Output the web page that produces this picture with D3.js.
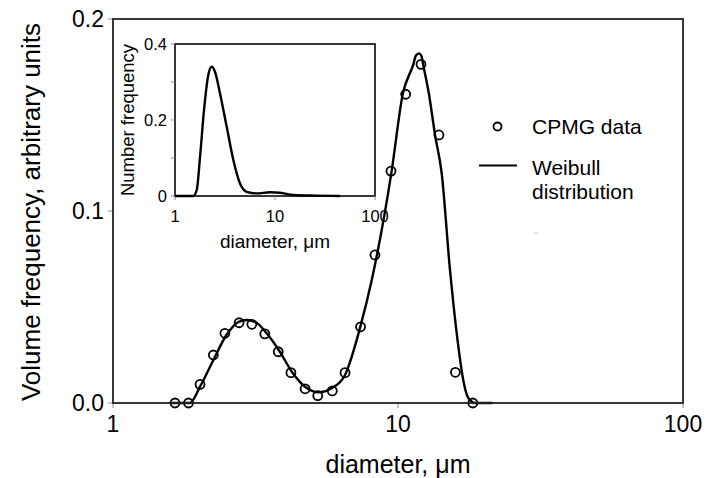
<!DOCTYPE html>
<html lang="en">
<head>
  <meta charset="UTF-8">
  <title>Volume frequency vs diameter</title>
  <style>
    body { margin: 0; background: #fff; }
    svg text { font-family: "Liberation Sans", Arial, sans-serif; fill: #000; }
  </style>
</head>
<body>
  <svg id="chart" width="707" height="478"></svg>

  <script src="https://cdn.jsdelivr.net/npm/d3@7"></script>
  <script>
    // CPMG data points (diameter in um, volume frequency)
    const cpmgDiam = [1.65, 1.84, 2.02, 2.25, 2.47, 2.77, 3.07, 3.41, 3.80, 4.21, 4.72,
                      5.23, 5.88, 6.52, 7.39, 8.30, 9.45, 10.64, 12.04, 13.92, 15.9, 18.3];
    const cpmgFreq = [0, 0, 0.0097, 0.025, 0.0363, 0.0418, 0.041, 0.036, 0.0267, 0.0158, 0.0074,
                      0.0038, 0.0063, 0.0158, 0.0397, 0.0771, 0.1208, 0.1608, 0.1764, 0.1396, 0.016, 0];

    // Weibull fit curve
    const fitDiam = [1.6, 1.72, 1.86, 2.02, 2.25, 2.50, 2.76, 2.95, 3.19, 3.46, 3.85, 4.24, 4.72,
                     5.25, 5.85, 6.52, 7.35, 8.09, 9.50, 10.39, 11.32, 11.56, 11.85, 12.09, 12.24,
                     12.84, 13.49, 14.23, 15.22, 16.29, 16.94, 17.65, 18.63, 21.5];
    const fitFreq = [0, 0, 0, 0.0085, 0.0224, 0.0354, 0.0423, 0.0432, 0.0418, 0.0363, 0.0267, 0.0163, 0.0085,
                     0.0056, 0.0077, 0.0146, 0.0389, 0.0641, 0.1208, 0.1608, 0.1764, 0.181, 0.1821, 0.1807, 0.1766,
                     0.1609, 0.1396, 0.1198, 0.0693, 0.0292, 0.012, 0.0026, 0, 0];

    // inset: number frequency
    const insetDiam = [1.0, 1.52, 1.65, 1.78, 1.95, 2.15, 2.33, 2.51, 2.82, 3.29, 3.83, 4.47, 5.21,
                       6.56, 8.91, 11.2, 15.2, 26, 44.7];
    const insetFreq = [0, 0, 0.0158, 0.103, 0.226, 0.318, 0.340, 0.327, 0.270, 0.182, 0.095, 0.033, 0.011,
                       0.007, 0.0097, 0.0087, 0.0026, 0.001, 0];

    const xTicks = [1, 10, 100];
    const yTicks = [0, 0.1, 0.2];
    const yTickLabels = ["0.0", "0.1", "0.2"];
    const insetYTicks = [0, 0.2, 0.4];
    const insetYTickLabels = ["0", "0.2", "0.4"];
    const insetYMinor = [0.1, 0.3];

    const svg = d3.select("#chart");

    // ---- main plot ----
    const m = { left: 113, right: 683, top: 19, bottom: 403 };
    const x = d3.scaleLog().domain([1, 100]).range([m.left, m.right]);
    const y = d3.scaleLinear().domain([0, 0.2]).range([m.bottom, m.top]);

    // ticks
    svg.selectAll(".ytick").data(yTicks).enter().append("line")
      .attr("x1", m.left - 5).attr("x2", m.left)
      .attr("y1", d => y(d)).attr("y2", d => y(d))
      .attr("stroke", "#888").attr("stroke-width", 1);
    svg.selectAll(".xtick").data(xTicks).enter().append("line")
      .attr("x1", d => x(d)).attr("x2", d => x(d))
      .attr("y1", m.bottom).attr("y2", m.bottom + 5)
      .attr("stroke", "#888").attr("stroke-width", 1);

    svg.selectAll(".ylab").data(yTicks).enter().append("text")
      .attr("x", 104).attr("y", d => y(d)).attr("dy", "0.36em")
      .attr("text-anchor", "end").attr("font-size", 23)
      .text((d, i) => yTickLabels[i]);
    svg.selectAll(".xlab").data(xTicks).enter().append("text")
      .attr("x", d => x(d)).attr("y", 432)
      .attr("text-anchor", "middle").attr("font-size", 23)
      .text(d => d);

    svg.append("text")
      .attr("x", (m.left + m.right) / 2).attr("y", 473)
      .attr("text-anchor", "middle").attr("font-size", 25)
      .text("diameter, \u03bcm");
    svg.append("text")
      .attr("transform", "translate(40," + ((m.top + m.bottom) / 2 + 1) + ") rotate(-90)")
      .attr("text-anchor", "middle").attr("font-size", 26)
      .text("Volume frequency, arbitrary units");

    // curve
    const fit = fitDiam.map((d, i) => [d, fitFreq[i]]);
    svg.append("path")
      .datum(fit)
      .attr("fill", "none").attr("stroke", "#000").attr("stroke-width", 2.4)
      .attr("d", d3.line().x(d => x(d[0])).y(d => y(d[1])).curve(d3.curveMonotoneX));

    // data circles
    svg.selectAll(".pt").data(cpmgDiam).enter().append("circle")
      .attr("cx", d => x(d)).attr("cy", (d, i) => y(cpmgFreq[i]))
      .attr("r", 4.5).attr("fill", "none").attr("stroke", "#000").attr("stroke-width", 1.8);

    // frame
    svg.append("rect")
      .attr("x", m.left).attr("y", m.top)
      .attr("width", m.right - m.left).attr("height", m.bottom - m.top)
      .attr("fill", "none").attr("stroke", "#222").attr("stroke-width", 1.8);

    // legend
    svg.append("circle").attr("cx", 497.5).attr("cy", 126.5).attr("r", 4)
      .attr("fill", "none").attr("stroke", "#000").attr("stroke-width", 1.8);
    svg.append("text").attr("x", 532).attr("y", 134).attr("font-size", 21).text("CPMG data");
    svg.append("line").attr("x1", 479).attr("x2", 517).attr("y1", 165.5).attr("y2", 165.5)
      .attr("stroke", "#000").attr("stroke-width", 2);
    svg.append("text").attr("x", 532).attr("y", 175).attr("font-size", 21).text("Weibull");
    svg.append("text").attr("x", 532).attr("y", 199).attr("font-size", 21).text("distribution");
    svg.append("line").attr("x1", 534).attr("x2", 538).attr("y1", 233).attr("y2", 233)
      .attr("stroke", "#bbb").attr("stroke-width", 1);

    // ---- inset ----
    const n = { left: 175, right: 375, top: 44, bottom: 196 };
    const xi = d3.scaleLog().domain([1, 100]).range([n.left, n.right]);
    const yi = d3.scaleLinear().domain([0, 0.4]).range([n.bottom, n.top]);

    svg.append("rect")
      .attr("x", n.left).attr("y", n.top)
      .attr("width", n.right - n.left).attr("height", n.bottom - n.top)
      .attr("fill", "#fff").attr("stroke", "#222").attr("stroke-width", 1.8);

    svg.selectAll(".iyt").data(insetYTicks.concat(insetYMinor)).enter().append("line")
      .attr("x1", n.left - 4).attr("x2", n.left)
      .attr("y1", d => yi(d)).attr("y2", d => yi(d))
      .attr("stroke", "#888").attr("stroke-width", 1);
    svg.selectAll(".ixt").data(xTicks).enter().append("line")
      .attr("x1", d => xi(d)).attr("x2", d => xi(d))
      .attr("y1", n.bottom).attr("y2", n.bottom + 4)
      .attr("stroke", "#888").attr("stroke-width", 1);

    svg.selectAll(".iyl").data(insetYTicks).enter().append("text")
      .attr("x", 167).attr("y", d => yi(d)).attr("dy", "0.36em")
      .attr("text-anchor", "end").attr("font-size", 16.5)
      .text((d, i) => insetYTickLabels[i]);
    svg.selectAll(".ixl").data(xTicks).enter().append("text")
      .attr("x", d => xi(d)).attr("y", 222)
      .attr("text-anchor", "middle").attr("font-size", 16.5)
      .text(d => d);
    svg.append("text")
      .attr("x", (n.left + n.right) / 2).attr("y", 248)
      .attr("text-anchor", "middle").attr("font-size", 19)
      .text("diameter, \u03bcm");
    svg.append("text")
      .attr("transform", "translate(134," + ((n.top + n.bottom) / 2) + ") rotate(-90)")
      .attr("text-anchor", "middle").attr("font-size", 18.5)
      .text("Number frequency");

    const ins = insetDiam.map((d, i) => [d, insetFreq[i]]);
    svg.append("path")
      .datum(ins)
      .attr("fill", "none").attr("stroke", "#000").attr("stroke-width", 2.4)
      .attr("d", d3.line().x(d => xi(d[0])).y(d => yi(d[1])).curve(d3.curveMonotoneX));
  </script>
</body>
</html>
